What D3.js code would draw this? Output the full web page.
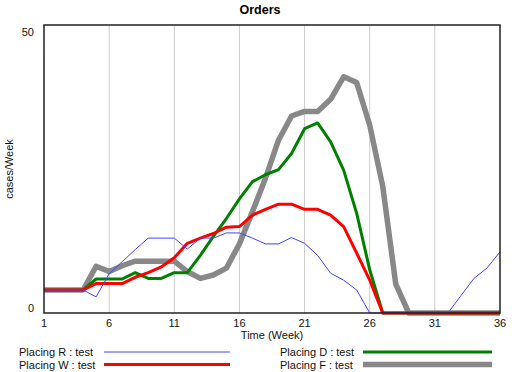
<!DOCTYPE html>
<html lang="en">
<head>
  <meta charset="UTF-8">
  <title>Orders</title>
  <script src="https://d3js.org/d3.v7.min.js"></script>
  <style>
    body { margin: 0; background: #fff; }
    svg { display: block; font-family: "Liberation Sans", Arial, sans-serif; }
  </style>
</head>
<body>
  <div id="chart"></div>
  <script>
    const weeks = d3.range(1, 37);
    const placingR = [4, 4, 4, 4, 2.8, 6.8, 8.9, 11, 13, 13, 13, 11.1, 13, 13, 13.9, 13.9, 13, 12, 12, 13.1, 12.1, 10, 6.9, 5.7, 4, 0, 0, 0, 0, 0, 0, 0, 3, 6, 7.8, 10.6];
    const placingW = [4, 4, 4, 4, 5.1, 5.1, 5.1, 6.2, 7, 8, 9.6, 12.1, 13, 13.8, 14.9, 15, 17, 18, 18.9, 18.9, 18, 18, 17, 15, 10.4, 5.7, 0, 0, 0, 0, 0, 0, 0, 0, 0, 0];
    const placingD = [4, 4, 4, 4, 5.9, 5.9, 5.9, 7, 6, 6, 7, 7, 10, 13.3, 16.4, 19.8, 22.8, 24, 24.9, 27.7, 32, 33, 29.7, 24.8, 17.3, 7.5, 0, 0, 0, 0, 0, 0, 0, 0, 0, 0];
    const placingF = [4, 4, 4, 4, 8.1, 7.2, 8.2, 9, 9, 9, 9, 7.2, 6, 6.6, 7.8, 12, 17.6, 23.4, 30, 34.2, 35, 35, 37.1, 41, 40, 32.6, 22, 5, 0, 0, 0, 0, 0, 0, 0, 0];
    const xTicks = [1, 6, 11, 16, 21, 26, 31, 36];
    const yTicks = [0, 50];

    const series = [
      { name: "Placing F : test", values: placingF, color: "#888888", width: 5.5, col: 1, row: 1 },
      { name: "Placing D : test", values: placingD, color: "#008000", width: 3, col: 1, row: 0 },
      { name: "Placing W : test", values: placingW, color: "#ff0000", width: 3, col: 0, row: 1 },
      { name: "Placing R : test", values: placingR, color: "#4444ff", width: 1, col: 0, row: 0 }
    ];

    const width = 512, height = 372;
    const plotLeft = 44, plotRight = 500, plotTop = 25, plotBottom = 313;

    const svg = d3.select("#chart").append("svg")
        .attr("width", width)
        .attr("height", height);

    const x = d3.scaleLinear().domain([1, 36]).range([plotLeft, plotRight]);
    const y = d3.scaleLinear().domain([0, 50]).range([plotBottom, plotTop]);

    // vertical grid
    svg.append("g")
        .selectAll("line")
        .data(xTicks.slice(1, -1))
        .join("line")
        .attr("x1", d => x(d)).attr("x2", d => x(d))
        .attr("y1", plotTop).attr("y2", plotBottom)
        .attr("stroke", "#cccccc")
        .attr("stroke-width", 1);

    const line = d3.line()
        .x((d, i) => x(weeks[i]))
        .y(d => y(d));

    svg.append("g")
        .selectAll("path")
        .data(series)
        .join("path")
        .attr("d", d => line(d.values))
        .attr("fill", "none")
        .attr("stroke", d => d.color)
        .attr("stroke-width", d => d.width)
        .attr("stroke-linejoin", "round");

    // frame
    svg.append("rect")
        .attr("x", plotLeft).attr("y", plotTop)
        .attr("width", plotRight - plotLeft).attr("height", plotBottom - plotTop)
        .attr("fill", "none")
        .attr("stroke", "#222")
        .attr("stroke-width", 1.5);

    // axis labels
    svg.append("g")
        .selectAll("text")
        .data(xTicks)
        .join("text")
        .attr("x", d => x(d))
        .attr("y", plotBottom + 14)
        .attr("text-anchor", "middle")
        .attr("font-size", 11)
        .attr("fill", "#111")
        .text(d => d);

    svg.append("g")
        .selectAll("text")
        .data(yTicks)
        .join("text")
        .attr("x", 34)
        .attr("y", d => d === 0 ? y(d) - 1 : y(d) + 11)
        .attr("text-anchor", "end")
        .attr("font-size", 11)
        .attr("fill", "#111")
        .text(d => d);

    svg.append("text")
        .attr("x", (plotLeft + plotRight) / 2)
        .attr("y", plotBottom + 26)
        .attr("text-anchor", "middle")
        .attr("font-size", 11)
        .attr("fill", "#111")
        .text("Time (Week)");

    svg.append("text")
        .attr("transform", `translate(13, ${(plotTop + plotBottom) / 2}) rotate(-90)`)
        .attr("text-anchor", "middle")
        .attr("font-size", 11)
        .attr("fill", "#111")
        .text("cases/Week");

    svg.append("text")
        .attr("x", 260)
        .attr("y", 14)
        .attr("text-anchor", "middle")
        .attr("font-size", 12.5)
        .attr("font-weight", "bold")
        .attr("fill", "#000")
        .text("Orders");

    // legend
    const legend = svg.append("g")
        .selectAll("g")
        .data(series)
        .join("g")
        .attr("transform", d => `translate(${d.col === 0 ? 19 : 280}, ${352 + d.row * 12.5})`);

    legend.append("text")
        .attr("y", 4)
        .attr("font-size", 11)
        .attr("fill", "#111")
        .text(d => d.name);

    legend.append("line")
        .attr("x1", d => d.col === 0 ? 85 : 83)
        .attr("x2", d => d.col === 0 ? 211 : 212)
        .attr("stroke", d => d.color)
        .attr("stroke-width", d => d.width);
  </script>
</body>
</html>
